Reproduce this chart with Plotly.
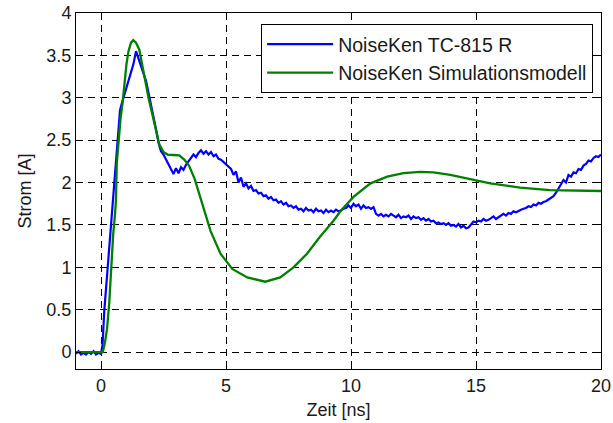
import plotly.graph_objects as go

# Measured current (NoiseKen TC-815 R)
blue_x = [-1.0, -0.9, -0.8, -0.7, -0.6, -0.5, -0.4, -0.3, -0.2, -0.1, 0.0,
          0.06, 0.13, 0.2, 0.27, 0.32, 0.37, 0.42, 0.47, 0.52, 0.57, 0.62, 0.67, 0.72, 0.76,
          0.82, 0.9, 1.0, 1.1, 1.2, 1.3, 1.4, 1.5, 1.6, 1.7, 1.8, 1.9, 2.0, 2.1, 2.2, 2.3,
          2.4, 2.5, 2.6, 2.7, 2.8, 2.9, 3.0, 3.1, 3.2, 3.3, 3.4, 3.5, 3.6, 3.7, 3.8, 3.9,
          4.0, 4.1, 4.2, 4.3, 4.4, 4.5, 4.6, 4.7, 4.8, 4.9, 5.0, 5.1, 5.2, 5.3, 5.4, 5.5,
          5.6, 5.7, 5.8, 5.9, 6.0, 6.1, 6.2, 6.3, 6.4, 6.5, 6.6, 6.7, 6.8, 6.9, 7.0, 7.1,
          7.2, 7.3, 7.4, 7.5, 7.6, 7.7, 7.8, 7.9, 8.0, 8.1, 8.2, 8.3, 8.4, 8.5, 8.6, 8.7,
          8.8, 8.9, 9.0, 9.1, 9.2, 9.3, 9.4, 9.5, 9.6, 9.7, 9.8, 9.9, 10.0, 10.1, 10.2,
          10.3, 10.4, 10.5, 10.6, 10.7, 10.8, 10.9, 11.0, 11.1, 11.2, 11.3, 11.4, 11.5,
          11.6, 11.7, 11.8, 11.9, 12.0, 12.1, 12.2, 12.3, 12.4, 12.5, 12.6, 12.7, 12.8,
          12.9, 13.0, 13.1, 13.2, 13.3, 13.4, 13.5, 13.6, 13.7, 13.8, 13.9, 14.0, 14.1,
          14.2, 14.3, 14.4, 14.5, 14.6, 14.7, 14.8, 14.9, 15.0, 15.1, 15.2, 15.3, 15.4,
          15.5, 15.6, 15.7, 15.8, 15.9, 16.0, 16.1, 16.2, 16.3, 16.4, 16.5, 16.6, 16.7,
          16.8, 16.9, 17.0, 17.1, 17.2, 17.3, 17.4, 17.5, 17.6, 17.7, 17.8, 17.9, 18.0,
          18.1, 18.2, 18.3, 18.4, 18.5, 18.6, 18.7, 18.8, 18.9, 19.0, 19.1, 19.2, 19.3,
          19.4, 19.5, 19.6, 19.7, 19.8, 19.9, 20.0]
blue_y = [-0.02, 0.01, -0.03, -0.01, -0.03, 0.0, -0.02, 0.01, -0.03, -0.01, -0.02,
          0.08, 0.48, 0.75, 0.99, 1.2, 1.38, 1.6, 1.78, 2.0, 2.22, 2.42, 2.6, 2.75, 2.85,
          2.92, 3.0, 3.12, 3.22, 3.3, 3.4, 3.55, 3.46, 3.38, 3.3, 3.2, 3.06, 2.92, 2.8,
          2.63, 2.47, 2.37, 2.33, 2.27, 2.22, 2.14, 2.1, 2.17, 2.11, 2.18, 2.15, 2.21,
          2.25, 2.3, 2.33, 2.3, 2.35, 2.38, 2.34, 2.37, 2.33, 2.36, 2.31, 2.33, 2.28,
          2.27, 2.24, 2.22, 2.19, 2.16, 2.09, 2.13, 2.0, 2.06, 1.95, 1.99, 1.93, 1.96,
          1.9, 1.91, 1.87, 1.88, 1.84, 1.85, 1.81, 1.83, 1.79, 1.8, 1.76, 1.78, 1.74,
          1.76, 1.72, 1.73, 1.7, 1.72, 1.68, 1.69, 1.66, 1.7, 1.67, 1.68, 1.65, 1.69,
          1.66, 1.67, 1.64, 1.68, 1.65, 1.67, 1.65, 1.68, 1.66, 1.67, 1.69, 1.7, 1.73,
          1.7, 1.75, 1.72, 1.74, 1.69, 1.73, 1.7, 1.71, 1.69, 1.71, 1.63, 1.61, 1.63,
          1.6, 1.62, 1.6, 1.63, 1.61, 1.59, 1.62, 1.58, 1.6, 1.59, 1.61, 1.57, 1.6,
          1.58, 1.59, 1.56, 1.58, 1.55, 1.57, 1.54, 1.55, 1.52, 1.53, 1.51, 1.52, 1.5,
          1.52, 1.49, 1.5, 1.48, 1.51, 1.47, 1.49, 1.46, 1.47, 1.51, 1.54, 1.53, 1.55,
          1.54, 1.57, 1.55, 1.56, 1.58, 1.6, 1.57, 1.59, 1.62, 1.63, 1.61, 1.64, 1.63,
          1.66, 1.65, 1.67, 1.68, 1.69, 1.7, 1.72, 1.71, 1.74, 1.73, 1.76, 1.75, 1.77,
          1.78, 1.8, 1.82, 1.84, 1.88, 1.93, 1.98, 2.03, 2.0, 2.09, 2.07, 2.12, 2.11,
          2.16, 2.15, 2.2, 2.22, 2.26, 2.25, 2.29, 2.31, 2.3, 2.33]

# Simulation model (NoiseKen Simulationsmodell)
green_x = [-1.0, 0.07, 0.15, 0.24, 0.33, 0.4, 0.49, 0.56, 0.6, 0.63, 0.7, 0.78, 0.86,
           0.94, 1.02, 1.1, 1.2, 1.29, 1.4, 1.53, 1.65, 1.77, 1.9, 2.06, 2.2, 2.33, 2.5,
           2.66, 2.9, 3.13, 3.33, 3.52, 3.75, 4.05, 4.38, 4.78, 5.25, 5.85, 6.57, 7.17,
           7.7, 8.24, 8.76, 9.3, 9.6, 10.1, 10.78, 11.45, 12.1, 12.77, 13.3, 13.97, 14.77,
           15.57, 16.77, 17.96, 20.0]
green_y = [0.0, 0.0, 0.1, 0.27, 0.58, 0.98, 1.4, 1.62, 1.8, 2.22, 2.5, 2.75, 2.93,
           3.2, 3.4, 3.55, 3.65, 3.68, 3.65, 3.57, 3.4, 3.2, 3.0, 2.8, 2.6, 2.45, 2.36,
           2.33, 2.325, 2.32, 2.27, 2.2, 2.04, 1.74, 1.43, 1.16, 0.98, 0.88, 0.83, 0.88,
           1.0, 1.16, 1.36, 1.55, 1.67, 1.83, 1.99, 2.07, 2.11, 2.125, 2.12, 2.09, 2.04,
           1.99, 1.94, 1.91, 1.9]

x_ticks = [0, 5, 10, 15, 20]
y_ticks = [0, 0.5, 1, 1.5, 2, 2.5, 3, 3.5, 4]

FONT = "Liberation Sans, Arial, sans-serif"

fig = go.Figure()
fig.add_trace(go.Scatter(x=blue_x, y=blue_y, mode="lines", name="NoiseKen TC-815 R",
                         line=dict(color="#0000FF", width=2.2)))
fig.add_trace(go.Scatter(x=green_x, y=green_y, mode="lines", name="NoiseKen Simulationsmodell",
                         line=dict(color="#008000", width=2.3)))

axis_common = dict(
    showline=True, linecolor="black", linewidth=1, mirror="allticks",
    ticks="inside", ticklen=5, tickcolor="black",
    showgrid=True, gridcolor="black", gridwidth=1, griddash="7px,5px",
    zeroline=False, tickfont=dict(family=FONT, size=18, color="#1a1a1a"),
)

fig.update_xaxes(range=[-1, 20], tickvals=x_ticks, ticktext=[str(v) for v in x_ticks],
                 title=dict(text="Zeit [ns]", font=dict(family=FONT, size=18, color="#1a1a1a"), standoff=8),
                 **axis_common)
fig.update_yaxes(range=[-0.2, 4], tickvals=y_ticks, ticktext=[f"{v:g}" for v in y_ticks],
                 title=dict(text="Strom [A]", font=dict(family=FONT, size=18, color="#1a1a1a"), standoff=10),
                 **axis_common)

fig.update_layout(
    width=613, height=423,
    margin=dict(l=76, r=12, t=13, b=54, autoexpand=False),
    paper_bgcolor="white", plot_bgcolor="white",
    showlegend=True,
    legend=dict(x=0.985, y=0.969, xanchor="right", yanchor="top",
                bgcolor="white", bordercolor="black", borderwidth=1,
                font=dict(family=FONT, size=19.5, color="#1a1a1a"),
                itemwidth=66, tracegroupgap=0),
    hovermode=False,
)

fig.write_html("out.html", config={"displayModeBar": False})
